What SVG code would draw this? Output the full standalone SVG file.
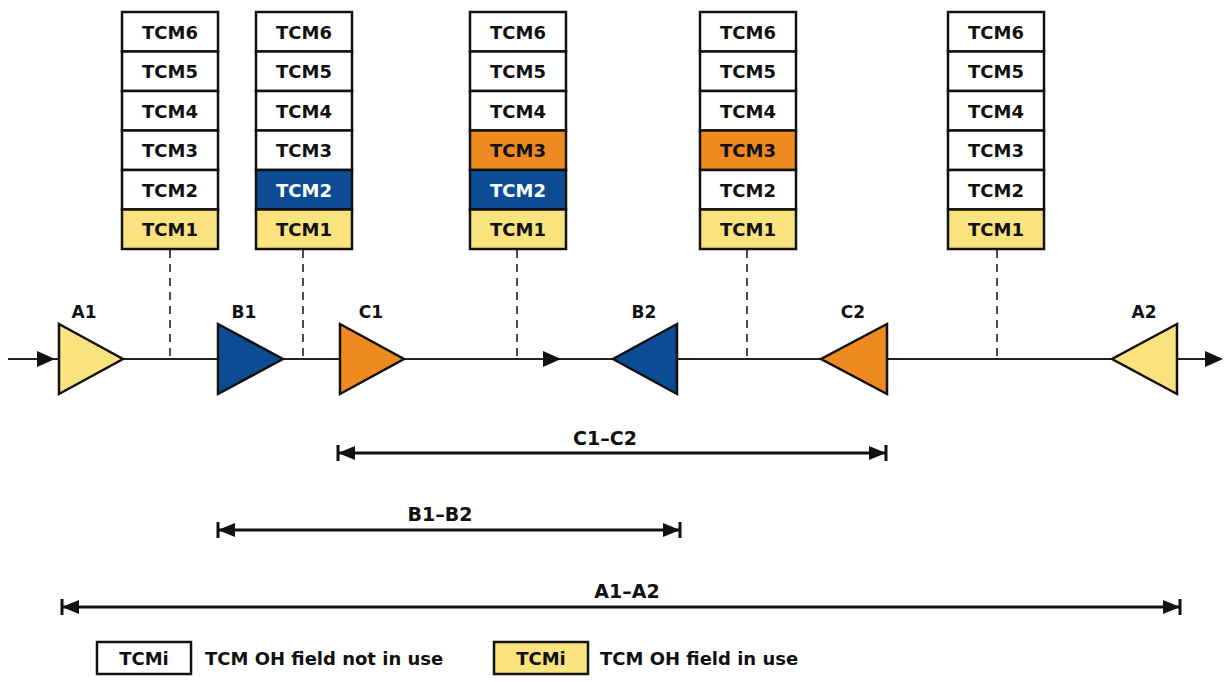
<svg xmlns="http://www.w3.org/2000/svg" width="1227" height="682" viewBox="0 0 1227 682">
<style>
.cell{stroke:#111;stroke-width:2.5}
.w{fill:#fff}.y{fill:#fae27e}.b{fill:#0b4c94}.o{fill:#ef8a20}
.t{font-family:"DejaVu Sans",sans-serif;font-weight:bold;font-size:18px;text-anchor:middle;fill:#111}
.tw{fill:#fff}
.lbl{font-family:"DejaVu Sans",sans-serif;font-weight:bold;font-size:17px;text-anchor:middle;fill:#111}
.dl{font-size:19px}
.tri{stroke:#111;stroke-width:2.5;stroke-linejoin:miter}
.main{stroke:#222;stroke-width:1.8;fill:none}
.dash{stroke:#222;stroke-width:1.6;stroke-dasharray:8 6;fill:none}
.dim{stroke:#111;stroke-width:3;fill:none;marker-start:url(#dimEnd);marker-end:url(#dimEnd)}
.leg{font-family:"DejaVu Sans",sans-serif;font-weight:bold;font-size:18px;fill:#111}
</style>
<defs>
<marker id="dimEnd" markerUnits="userSpaceOnUse" viewBox="-20 -10 22 20" refX="0" refY="0" markerWidth="22" markerHeight="20" orient="auto-start-reverse">
<path d="M-17,-7 L0,0 L-17,7 Z" fill="#111"/>
<path d="M0,-8 V8" stroke="#111" stroke-width="3"/>
</marker>
<path id="ah" d="M-9,-8 L9,0 L-9,8 Z" fill="#111"/>
</defs>

<g id="stack1">
<rect class="cell w" x="122" y="12" width="96" height="39.5"/>
<rect class="cell w" x="122" y="51.5" width="96" height="39.5"/>
<rect class="cell w" x="122" y="91" width="96" height="39.5"/>
<rect class="cell w" x="122" y="130.5" width="96" height="39.5"/>
<rect class="cell w" x="122" y="170" width="96" height="39.5"/>
<rect class="cell y" x="122" y="209.5" width="96" height="39.5"/>
<text class="t" x="170" y="38.5">TCM6</text>
<text class="t" x="170" y="78">TCM5</text>
<text class="t" x="170" y="117.5">TCM4</text>
<text class="t" x="170" y="157">TCM3</text>
<text class="t" x="170" y="196.5">TCM2</text>
<text class="t" x="170" y="236">TCM1</text>
</g>

<g id="stack2">
<rect class="cell w" x="256" y="12" width="96" height="39.5"/>
<rect class="cell w" x="256" y="51.5" width="96" height="39.5"/>
<rect class="cell w" x="256" y="91" width="96" height="39.5"/>
<rect class="cell w" x="256" y="130.5" width="96" height="39.5"/>
<rect class="cell b" x="256" y="170" width="96" height="39.5"/>
<rect class="cell y" x="256" y="209.5" width="96" height="39.5"/>
<text class="t" x="304" y="38.5">TCM6</text>
<text class="t" x="304" y="78">TCM5</text>
<text class="t" x="304" y="117.5">TCM4</text>
<text class="t" x="304" y="157">TCM3</text>
<text class="t tw" x="304" y="196.5">TCM2</text>
<text class="t" x="304" y="236">TCM1</text>
</g>

<g id="stack3">
<rect class="cell w" x="470" y="12" width="96" height="39.5"/>
<rect class="cell w" x="470" y="51.5" width="96" height="39.5"/>
<rect class="cell w" x="470" y="91" width="96" height="39.5"/>
<rect class="cell o" x="470" y="130.5" width="96" height="39.5"/>
<rect class="cell b" x="470" y="170" width="96" height="39.5"/>
<rect class="cell y" x="470" y="209.5" width="96" height="39.5"/>
<text class="t" x="518" y="38.5">TCM6</text>
<text class="t" x="518" y="78">TCM5</text>
<text class="t" x="518" y="117.5">TCM4</text>
<text class="t" x="518" y="157">TCM3</text>
<text class="t tw" x="518" y="196.5">TCM2</text>
<text class="t" x="518" y="236">TCM1</text>
</g>

<g id="stack4">
<rect class="cell w" x="700" y="12" width="96" height="39.5"/>
<rect class="cell w" x="700" y="51.5" width="96" height="39.5"/>
<rect class="cell w" x="700" y="91" width="96" height="39.5"/>
<rect class="cell o" x="700" y="130.5" width="96" height="39.5"/>
<rect class="cell w" x="700" y="170" width="96" height="39.5"/>
<rect class="cell y" x="700" y="209.5" width="96" height="39.5"/>
<text class="t" x="748" y="38.5">TCM6</text>
<text class="t" x="748" y="78">TCM5</text>
<text class="t" x="748" y="117.5">TCM4</text>
<text class="t" x="748" y="157">TCM3</text>
<text class="t" x="748" y="196.5">TCM2</text>
<text class="t" x="748" y="236">TCM1</text>
</g>

<g id="stack5">
<rect class="cell w" x="948" y="12" width="96" height="39.5"/>
<rect class="cell w" x="948" y="51.5" width="96" height="39.5"/>
<rect class="cell w" x="948" y="91" width="96" height="39.5"/>
<rect class="cell w" x="948" y="130.5" width="96" height="39.5"/>
<rect class="cell w" x="948" y="170" width="96" height="39.5"/>
<rect class="cell y" x="948" y="209.5" width="96" height="39.5"/>
<text class="t" x="996" y="38.5">TCM6</text>
<text class="t" x="996" y="78">TCM5</text>
<text class="t" x="996" y="117.5">TCM4</text>
<text class="t" x="996" y="157">TCM3</text>
<text class="t" x="996" y="196.5">TCM2</text>
<text class="t" x="996" y="236">TCM1</text>
</g>

<g id="connectors">
<path class="main" d="M8,359 H1208"/>
<use href="#ah" x="46" y="359"/>
<use href="#ah" x="552" y="359"/>
<use href="#ah" x="1214" y="359"/>
<path class="dash" d="M170,250 V359 M303,250 V359 M517,250 V359 M747,250 V359 M997,250 V359"/>
<path class="dim" d="M338,453 H886"/>
<path class="dim" d="M218,530 H680"/>
<path class="dim" d="M62,607 H1180"/>
<text class="lbl dl" x="605" y="445">C1–C2</text>
<text class="lbl dl" x="440" y="521">B1–B2</text>
<text class="lbl dl" x="627" y="598">A1–A2</text>
</g>

<g id="A1">
<path class="tri y" d="M59,324 L123,359 L59,394 Z"/>
<text class="lbl" x="84" y="318">A1</text>
</g>
<g id="B1">
<path class="tri b" d="M218,324 L283,359 L218,394 Z"/>
<text class="lbl" x="244" y="318">B1</text>
</g>
<g id="C1">
<path class="tri o" d="M340,324 L404,359 L340,394 Z"/>
<text class="lbl" x="371" y="318">C1</text>
</g>
<g id="B2">
<path class="tri b" d="M677,324 L613,359 L677,394 Z"/>
<text class="lbl" x="644" y="318">B2</text>
</g>
<g id="C2">
<path class="tri o" d="M887,324 L821,359 L887,394 Z"/>
<text class="lbl" x="853" y="318">C2</text>
</g>
<g id="A2">
<path class="tri y" d="M1177,324 L1112,359 L1177,394 Z"/>
<text class="lbl" x="1144" y="318">A2</text>
</g>

<g id="legend">
<rect class="cell w" x="97" y="642" width="94" height="32"/>
<text class="t" x="144" y="664.5">TCMi</text>
<text class="leg" x="205" y="664.5">TCM OH field not in use</text>
<rect class="cell y" x="494" y="642" width="94" height="32"/>
<text class="t" x="541" y="664.5">TCMi</text>
<text class="leg" x="600" y="664.5">TCM OH field in use</text>
</g>
</svg>
